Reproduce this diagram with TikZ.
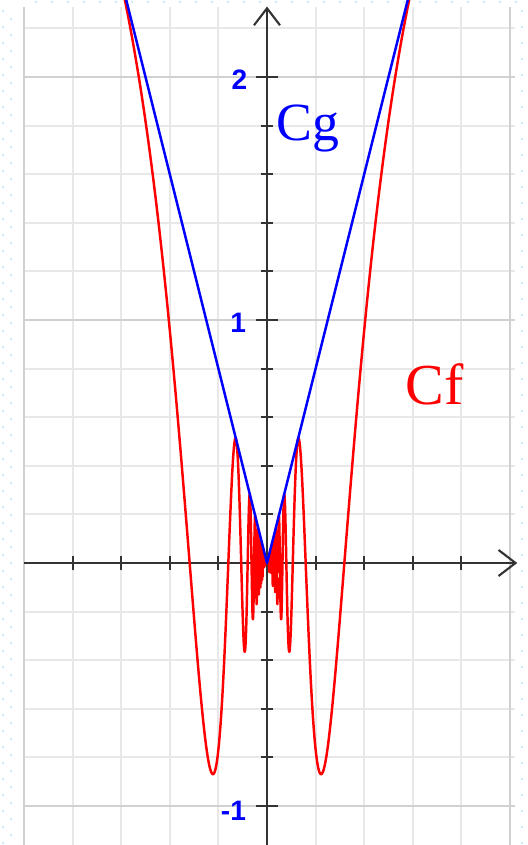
\documentclass[tikz,border=0pt]{standalone}
\usepackage{fontspec}
\newfontfamily\ticklabelfont{Liberation Sans}
\newfontfamily\curvelabelfont{Liberation Serif}
\usetikzlibrary{arrows.meta}

\begin{document}
\begin{tikzpicture}[x=2.43cm, y=2.43cm, >={Straight Barb[length=1.7mm,width=2.6mm]},
  minorgrid/.style={draw=black!9, line width=0.6pt},
  majorgrid/.style={draw=black!18, line width=0.6pt},
  axis/.style={draw=black!80, line width=0.6pt},
  framedots/.style={draw=cyan!22, line width=0.16mm, dash pattern=on 0.16mm off 1.44mm},
  ylab/.style={font=\ticklabelfont\bfseries\fontsize{8}{9}\selectfont, text=blue, anchor=east, inner sep=0pt},
  curvelab/.style={font=\curvelabelfont\fontsize{15.3}{17}\selectfont, anchor=base west, inner sep=0pt},
  curve/.style={line width=0.7pt, line join=round}]
  \useasboundingbox (-1.0988,-1.1605) rectangle (1.0700,2.3169);
  \draw[framedots] (-1.0864,2.276) -- (-1.0864,-1.17);
  \draw[framedots] (-1.0535,2.243) -- (-1.0535,-1.17);
  \draw[framedots] (-0.955,2.3086) -- (1.07,2.3086);
  \draw[framedots] (1.049,2.276) -- (1.049,-1.17);
  \foreach \gx in {-1,-0.8,...,1.01}
    \draw[minorgrid] (\gx,-1.17) -- (\gx,2.29);
  \foreach \gy in {-1.2,-1,...,2.21}
    \draw[minorgrid] (-1,\gy) -- (1.02,\gy);
  \foreach \gx in {-1,1}
    \draw[majorgrid] (\gx,-1.17) -- (\gx,2.29);
  \foreach \gy in {-1,1,2}
    \draw[majorgrid] (-1,\gy) -- (1.02,\gy);
  \coordinate (xstart) at (-1,0);
  \coordinate (xend) at (1.03,0);
  \coordinate (ystart) at (0,-1.17);
  \coordinate (yend) at (0,2.29);
  \draw[axis,->] (xstart) -- (xend);
  \draw[axis,->] (ystart) -- (yend);
  \foreach \tx in {-0.8,-0.6,-0.4,-0.2,0.2,0.4,0.6,0.8}
    \draw[axis] (\tx,-0.029) -- (\tx,0.029);
  \foreach \ty in {-0.8,-0.6,-0.4,-0.2,0.2,0.4,0.6,0.8,1.2,1.4,1.6,1.8}
    \draw[axis] (-0.026,\ty) -- (0.026,\ty);
  \foreach \ty in {-1,1,2}
    \draw[axis] (-0.047,\ty) -- (0.047,\ty);
  \node[ylab] (ytwo) at (-0.078,1.988) {2};
  \node[ylab] (yone) at (-0.084,0.99) {1};
  \node[ylab] (yminusone) at (-0.084,-1.02) {-1};
  \begin{scope}
    \clip (-1.0988,-1.1605) rectangle (1.0700,2.3169);
    \draw[curve, red, domain=-0.62:-0.045, samples=700] plot (\x,{4*\x*sin(mod(1/\x,6.283185) r)});
    \draw[curve, red, domain=-0.045:-0.006, samples=34] plot (\x,{4*\x*sin(mod(1/\x,6.283185) r)});
    \draw[curve, red, domain=0.006:0.045, samples=34] plot (\x,{4*\x*sin(mod(1/\x,6.283185) r)});
    \draw[curve, red, domain=0.045:0.62, samples=700] plot (\x,{4*\x*sin(mod(1/\x,6.283185) r)});
    \draw[curve, blue] (-0.6,2.4) -- (0,0) -- (0.6,2.4);
  \end{scope}
  \node[curvelab, text=blue] (Cg) at (0.035,1.737) {Cg};
  \node[curvelab, text=red, font=\curvelabelfont\fontsize{16.5}{18}\selectfont] (Cf) at (0.568,0.654) {Cf};
\end{tikzpicture}
\end{document}
